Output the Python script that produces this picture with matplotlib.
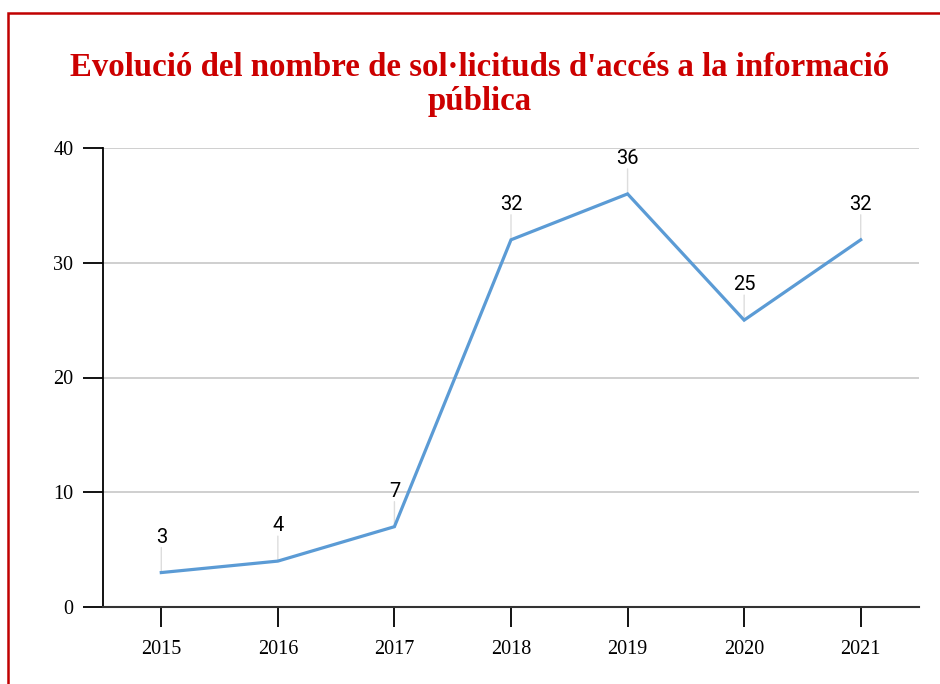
import matplotlib
matplotlib.use("Agg")
import matplotlib.pyplot as plt
from matplotlib.patches import Rectangle

years = ["2015", "2016", "2017", "2018", "2019", "2020", "2021"]
values = [3, 4, 7, 32, 36, 25, 32]
yticks = [0, 10, 20, 30, 40]
title = "Evolució del nombre de sol·licituds d'accés a la informació\npública"

W, H = 940, 684
fig = plt.figure(figsize=(W / 100, H / 100), dpi=100)
fig.patch.set_facecolor("white")

# red frame (left and top visible)
fig.patches.append(Rectangle((8 / W, -0.2), 1.2, (H - 13) / H + 0.2,
                             transform=fig.transFigure, fill=False,
                             edgecolor="#c00000", linewidth=1.8, zorder=0))

ax = fig.add_axes([103 / W, (H - 607) / H, (919 - 103) / W, (607 - 148) / H])
x = list(range(len(years)))
ax.plot(x, values, color="#5b9bd5", linewidth=2.3, zorder=3, solid_joinstyle="miter")

px = 1 / 1.3889  # points per pixel at 100 dpi
for xi, v in zip(x, values):
    ax.annotate(str(v), (xi, v), xytext=(0, 26 * px), textcoords="offset points",
                ha="center", va="bottom", fontsize=14.5, family=["Roboto", "DejaVu Sans"],
                color="black", zorder=4)
    ax.annotate("", (xi, v), xytext=(0, 25 * px), textcoords="offset points",
                arrowprops=dict(arrowstyle="-", color="#dddddd", lw=1, shrinkA=0, shrinkB=0),
                zorder=2)

ax.set_xlim(-0.5, len(years) - 0.5)
ax.set_ylim(0, 40)
ax.set_xticks(x)
ax.set_xticklabels(years)
ax.set_yticks(yticks)
ax.set_yticklabels([str(t) for t in yticks])
for t in ax.get_xticklabels() + ax.get_yticklabels():
    t.set_family(["Liberation Serif", "DejaVu Serif"])
    t.set_fontsize(14.5)
ax.tick_params(axis="both", length=20 * px, width=1.3, color="black", direction="out")
ax.tick_params(axis="x", pad=9.5)
ax.tick_params(axis="y", pad=7)

ax.grid(axis="y", color="#cccccc", linewidth=1.3)
ax.set_axisbelow(True)
for s in ["top", "right"]:
    ax.spines[s].set_visible(False)
ax.spines["left"].set_color("black")
ax.spines["left"].set_linewidth(1.3)
ax.spines["bottom"].set_color("#333333")
ax.spines["bottom"].set_linewidth(1.5)

fig.text(480 / W, 1 - 52 / H, title, ha="center", va="top", fontsize=23.7,
         fontweight="bold", color="#cc0000", family=["Liberation Serif", "DejaVu Serif"],
         linespacing=1.12)

fig.savefig("out.png", dpi=100)
